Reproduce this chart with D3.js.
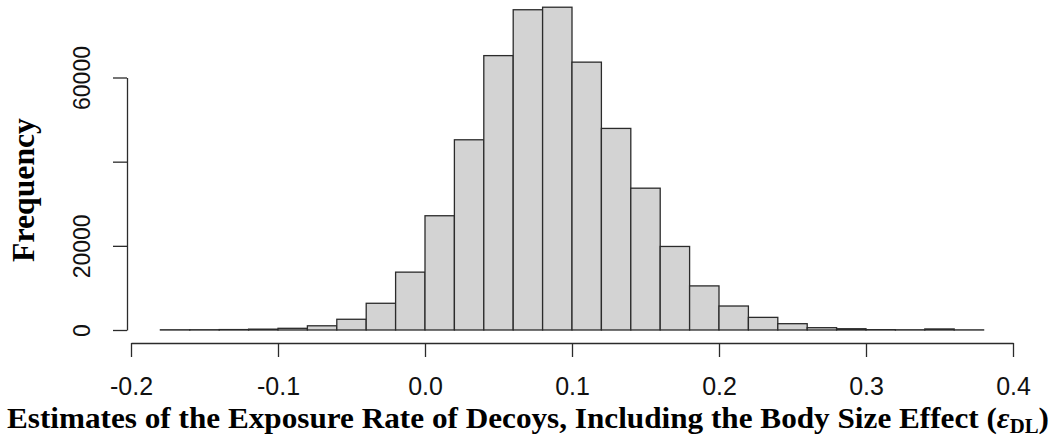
<!DOCTYPE html>
<html>
<head>
<meta charset="utf-8">
<script src="https://cdn.jsdelivr.net/npm/d3@7"></script>
<style>
  body { margin: 0; background: #fff; }
  svg { display: block; }
</style>
</head>
<body>
<script>
// histogram bins: left edge of each bin (width 0.02) and the count in it
const binStarts = [-0.18, -0.16, -0.14, -0.12, -0.10, -0.08, -0.06, -0.04, -0.02,
  0.00, 0.02, 0.04, 0.06, 0.08, 0.10, 0.12, 0.14, 0.16, 0.18,
  0.20, 0.22, 0.24, 0.26, 0.28, 0.30, 0.32, 0.34, 0.36]
const counts = [50, 60, 100, 200, 400, 1000, 2550, 6350, 13750,
  27150, 45200, 65200, 76100, 76700, 63650, 47900, 33700, 19850, 10480,
  5700, 3000, 1500, 550, 300, 80, 50, 250, 30]
const binWidth = 0.02

const xTicks = [-0.2, -0.1, 0.0, 0.1, 0.2, 0.3, 0.4]
const xTickLabels = ['-0.2', '-0.1', '0.0', '0.1', '0.2', '0.3', '0.4']
const yTicks = [0, 20000, 40000, 60000]
const yTickLabels = ['0', '20000', '', '60000'] // R drops the 40000 label

const width = 1058
const height = 438
const ink = '#2b2b2b'

const svg = d3.select('body').append('svg')
  .attr('width', width)
  .attr('height', height)

const x = d3.scaleLinear().domain([-0.2, 0.4]).range([131, 1013])
const y = d3.scaleLinear().domain([0, 60000]).range([330, 77.5])

// bars
svg.append('g')
  .selectAll('rect')
  .data(binStarts)
  .join('rect')
  .attr('x', d => x(d))
  .attr('width', d => x(d + binWidth) - x(d))
  .attr('y', (d, i) => y(counts[i]))
  .attr('height', (d, i) => y(0) - y(counts[i]))
  .attr('fill', '#d3d3d3')
  .attr('stroke', ink)
  .attr('stroke-width', 1.3)

// x axis
const xAxis = svg.append('g')
  .attr('transform', `translate(0,${343})`)
  .call(d3.axisBottom(x)
    .tickValues(xTicks)
    .tickFormat((d, i) => xTickLabels[i])
    .tickSize(14)
    .tickSizeOuter(0)
    .tickPadding(20))
xAxis.select('.domain').attr('stroke', ink).attr('stroke-width', 1.3)
xAxis.selectAll('.tick line').attr('stroke', ink).attr('stroke-width', 1.3)
xAxis.selectAll('.tick text')
  .attr('fill', '#111')
  .attr('font-family', 'Liberation Sans, Arial, sans-serif')
  .attr('font-size', 25)

// y axis
const yAxis = svg.append('g')
  .attr('transform', `translate(${127},0)`)
  .call(d3.axisLeft(y)
    .tickValues(yTicks)
    .tickFormat((d, i) => yTickLabels[i])
    .tickSize(14)
    .tickSizeOuter(0))
yAxis.select('.domain').attr('stroke', ink).attr('stroke-width', 1.3)
yAxis.selectAll('.tick line').attr('stroke', ink).attr('stroke-width', 1.3)
yAxis.selectAll('.tick text')
  .attr('fill', '#111')
  .attr('font-family', 'Liberation Sans, Arial, sans-serif')
  .attr('font-size', 23)
  .attr('text-anchor', 'middle')
  .attr('x', null)
  .attr('dy', null)
  .attr('transform', 'translate(-37,0) rotate(-90)')

// axis titles
svg.append('text')
  .attr('transform', 'translate(34,190) rotate(-90)')
  .attr('text-anchor', 'middle')
  .attr('font-family', 'Liberation Serif, Times New Roman, serif')
  .attr('font-weight', 'bold')
  .attr('font-size', 31)
  .attr('textLength', 144)
  .attr('lengthAdjust', 'spacingAndGlyphs')
  .attr('fill', '#000')
  .text('Frequency')

const title = svg.append('text')
  .attr('x', 7)
  .attr('y', 428)
  .attr('font-family', 'Liberation Serif, Times New Roman, serif')
  .attr('font-weight', 'bold')
  .attr('font-size', 30)
  .attr('textLength', 1042)
  .attr('lengthAdjust', 'spacingAndGlyphs')
  .attr('fill', '#000')
title.append('tspan').text('Estimates of the Exposure Rate of Decoys, Including the Body Size Effect (')
title.append('tspan').attr('font-style', 'italic').text('ε')
title.append('tspan').attr('font-size', 20).attr('dy', 5).text('DL')
title.append('tspan').attr('dy', -5).text(')')
</script>
</body>
</html>
